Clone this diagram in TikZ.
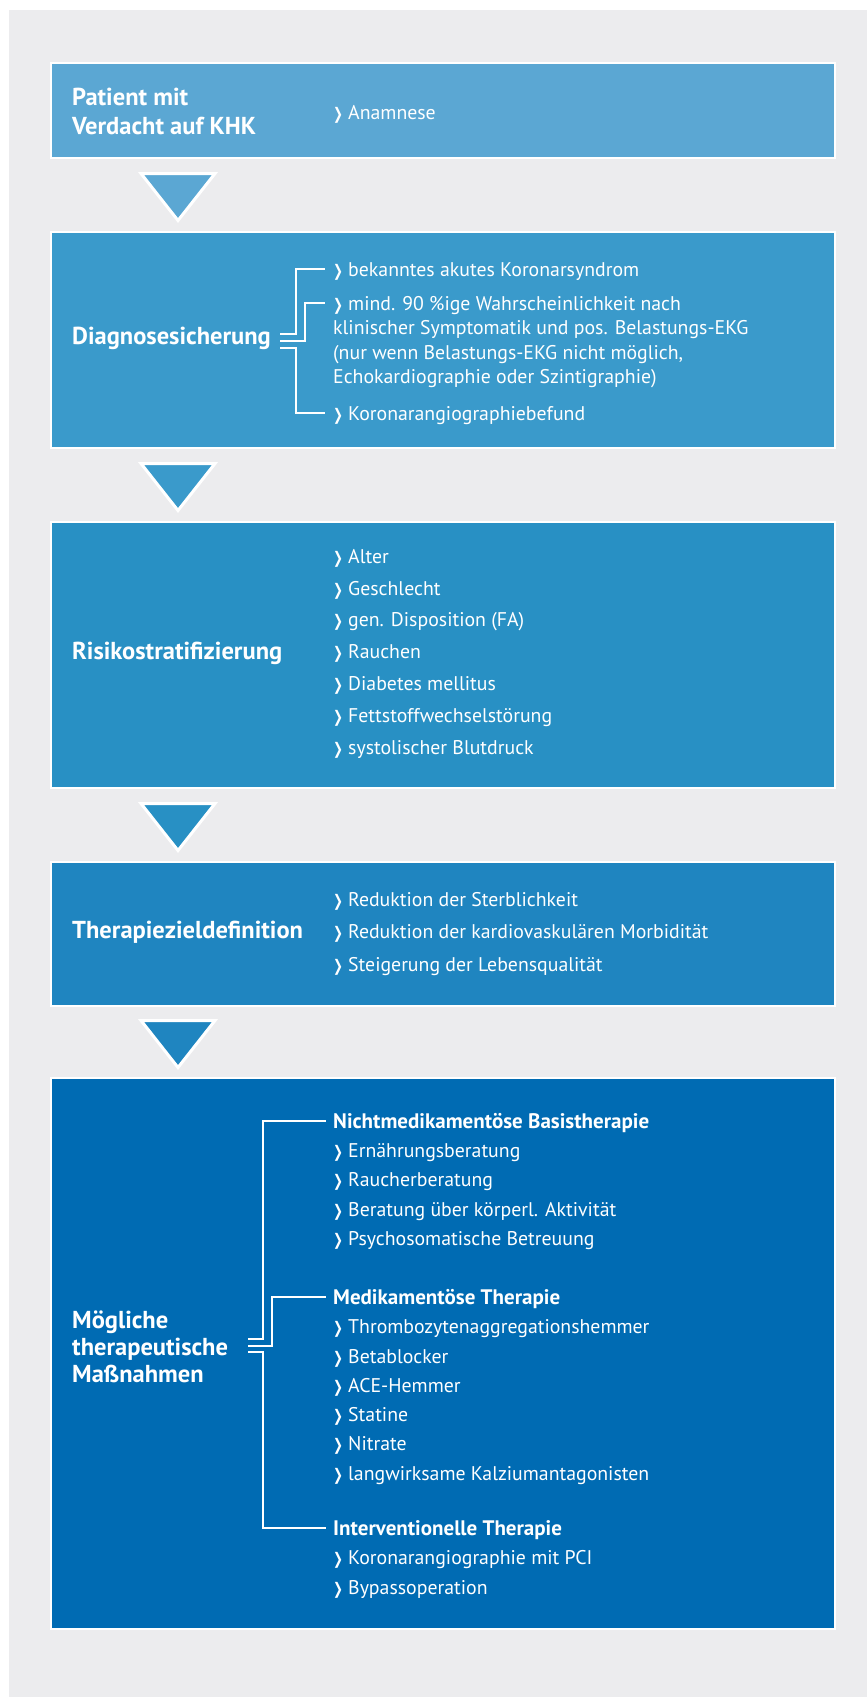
\documentclass[tikz,border=0pt]{standalone}
\usepackage{fontspec}
\setmainfont{PT Sans}
\newfontfamily\chevfont{DejaVu Sans}
\usepackage{graphicx}
\usepackage{tikz}
\usetikzlibrary{positioning,calc}

\definecolor{backgray}{HTML}{ECECEE}
\definecolor{stageA}{HTML}{5BA7D3}
\definecolor{stageB}{HTML}{3A9ACB}
\definecolor{stageC}{HTML}{2890C4}
\definecolor{stageD}{HTML}{1F85C0}
\definecolor{stageE}{HTML}{006BB3}

\newcommand{\itemmark}{\makebox[15pt][l]{\scalebox{0.74}[1]{\chevfont\bfseries\fontsize{16}{16}\selectfont ❯}}}

\tikzstyle{stage} = [rectangle, draw=white, line width=2pt, outer sep=0pt,
    inner sep=0pt, minimum width=784pt]
\tikzstyle{title} = [text=white, font=\bfseries\fontsize{24.5}{28.5}\selectfont,
    align=left, anchor=west, inner sep=0pt]
\tikzstyle{entry} = [text=white, font=\fontsize{19.8}{24.5}\selectfont,
    anchor=west, inner sep=0pt, text height=14pt, text depth=0pt]
\tikzstyle{entries} = [text=white, font=\fontsize{19.8}{29.3}\selectfont,
    align=left, anchor=north west, inner sep=0pt]
\tikzstyle{heading} = [entry, font=\bfseries\fontsize{21}{24.5}\selectfont]
\tikzstyle{pointer} = [draw=white, line width=3pt, line join=miter]
\tikzstyle{fork} = [draw=white, line width=2pt]

\begin{document}
\begin{tikzpicture}[node distance = 74pt, x=1pt, y=-1pt]
    \useasboundingbox (0,0) rectangle (867,1697);
    \fill[backgray] (9,10) rectangle (867,1697);
    % Place nodes
    \node [stage, fill=stageA, minimum height=95pt] (patient) at (443,110.5) {};
    \node [stage, fill=stageB, minimum height=216pt, below=of patient] (diag) {};
    \node [stage, fill=stageC, minimum height=266pt, below=of diag] (risk) {};
    \node [stage, fill=stageD, minimum height=144pt, below=of risk] (goal) {};
    \node [stage, fill=stageE, minimum height=551pt, below=72pt of goal] (measures) {};

    \node [title] (patienttitle) at ([xshift=21pt,yshift=-1pt]patient.west) {Patient mit\\Verdacht auf KHK};
    \node [entry] (anamnese) at ([xshift=282pt,yshift=-1.5pt]patient.west) {\itemmark Anamnese};

    \node [title] (diagtitle) at ([xshift=21pt,yshift=2pt]diag.west) {Diagnosesicherung};
    \node [entry] (acs) at ($(diag.north west)+(282,37)$) {\itemmark bekanntes akutes Koronarsyndrom};
    \node [entries, font=\fontsize{19.8}{24.5}\selectfont] (chance) at ($(diag.north west)+(282,64)$)
        {\itemmark mind. 90 \%ige Wahrscheinlichkeit nach\\klinischer Symptomatik und pos. Belastungs-EKG\\(nur wenn Belastungs-EKG nicht möglich,\\Echokardiographie oder Szintigraphie)};
    \node [entry] (angio) at ($(diag.south west)+(282,-35)$) {\itemmark Koronarangiographiebefund};

    \node [title] (risktitle) at ([xshift=21pt,yshift=2pt]risk.west) {Risikostratifizierung};
    \node [entries, font=\fontsize{19.8}{31.8}\selectfont] (riskfactors) at ($(risk.north west)+(282,27)$)
        {\itemmark Alter\\\itemmark Geschlecht\\\itemmark gen. Disposition (FA)\\\itemmark Rauchen\\
         \itemmark Diabetes mellitus\\\itemmark Fettstoffwechselstörung\\\itemmark systolischer Blutdruck};

    \node [title] (goaltitle) at ([xshift=21pt,yshift=2pt]goal.west) {Therapiezieldefinition};
    \node [entries, font=\fontsize{19.8}{32.5}\selectfont] (goals) at ($(goal.north west)+(282,30)$)
        {\itemmark Reduktion der Sterblichkeit\\\itemmark Reduktion der kardiovaskulären Morbidität\\
         \itemmark Steigerung der Lebensqualität};

    \node [title, font=\bfseries\fontsize{24.5}{27}\selectfont] (measurestitle) at ([xshift=21pt,yshift=7pt]measures.west)
        {Mögliche\\therapeutische\\Maßnahmen};
    \node [heading] (basic) at ($(measures.north west)+(282,43)$) {Nichtmedikamentöse Basistherapie};
    \node [entries, below=15.3pt of basic.south west, anchor=north west] (basiclist)
        {\itemmark Ernährungsberatung\\\itemmark Raucherberatung\\\itemmark Beratung über körperl. Aktivität\\
         \itemmark Psychosomatische Betreuung};
    \node [heading] (drugs) at ($(measures.north west)+(282,219)$) {Medikamentöse Therapie};
    \node [entries, below=15.3pt of drugs.south west, anchor=north west] (druglist)
        {\itemmark Thrombozytenaggregationshemmer\\\itemmark Betablocker\\\itemmark ACE-Hemmer\\
         \itemmark Statine\\\itemmark Nitrate\\\itemmark langwirksame Kalziumantagonisten};
    \node [heading] (interv) at ($(measures.north west)+(282,450)$) {Interventionelle Therapie};
    \node [entries, below=15.3pt of interv.south west, anchor=north west] (intervlist)
        {\itemmark Koronarangiographie mit PCI\\\itemmark Bypassoperation};

    \coordinate (diagfork) at ([xshift=229pt,yshift=-1pt]diag.west);
    \coordinate (measfork) at ([xshift=197pt,yshift=8pt]measures.west);

    % Draw edges
    \draw [pointer, fill=stageA] ($(patient.south west)+(90,15.5)$) -- ++(74,0) -- ++(-37,47) -- cycle;
    \draw [pointer, fill=stageB] ($(diag.south west)+(90,15.5)$) -- ++(74,0) -- ++(-37,47) -- cycle;
    \draw [pointer, fill=stageC] ($(risk.south west)+(90,15.5)$) -- ++(74,0) -- ++(-37,47) -- cycle;
    \draw [pointer, fill=stageD] ($(goal.south west)+(90,14.5)$) -- ++(74,0) -- ++(-37,47) -- cycle;

    \draw [fork] ([yshift=6.7pt]diagfork) -| ([xshift=-37pt]acs.west) -- ([xshift=-8pt]acs.west);
    \draw [fork] (diagfork) -| ([xshift=-28pt,yshift=-7pt]chance.north west) -- ([xshift=-8pt,yshift=-7pt]chance.north west);
    \draw [fork] ([yshift=-6.7pt]diagfork) -| ([xshift=-37pt]angio.west) -- ([xshift=-8pt]angio.west);

    \draw [fork] ([yshift=6.3pt]measfork) -| ([xshift=-70pt]basic.west) -- ([xshift=-7pt]basic.west);
    \draw [fork] (measfork) -| ([xshift=-61pt]drugs.west) -- ([xshift=-7pt]drugs.west);
    \draw [fork] ([yshift=-6.3pt]measfork) -| ([xshift=-70pt]interv.west) -- ([xshift=-7pt]interv.west);
\end{tikzpicture}
\end{document}
